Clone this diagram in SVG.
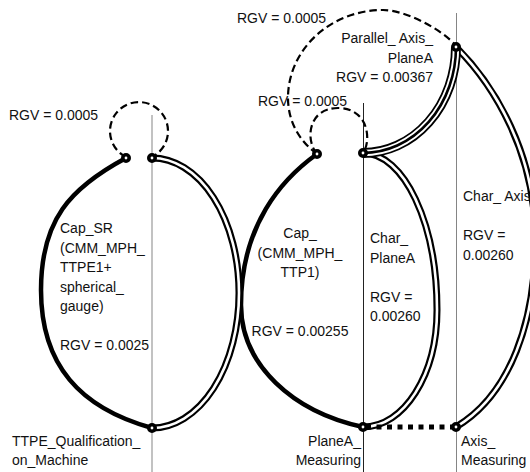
<svg xmlns="http://www.w3.org/2000/svg" xmlns:xlink="http://www.w3.org/1999/xlink" width="530" height="472" viewBox="0 0 530 472">
  <style>
    .lane{stroke:#858585;stroke-width:1;fill:none}
    .lane-dark{stroke:#222;stroke-width:1;fill:none}
    .thick{fill:none;stroke:#000;stroke-width:4.5;stroke-linecap:round}
    .dbl-o{fill:none;stroke:#000;stroke-width:7}
    .dbl-i{fill:none;stroke:#fff;stroke-width:2.6}
    .tri-o{fill:none;stroke:#000;stroke-width:10}
    .tri-w{fill:none;stroke:#fff;stroke-width:6.4}
    .tri-c{fill:none;stroke:#000;stroke-width:2.6}
    .dash{fill:none;stroke:#000;stroke-width:2.2;stroke-dasharray:7.5 4}
    .dot{fill:none;stroke:#000;stroke-width:5;stroke-dasharray:5 5.5}
    .node{fill:#fff;stroke:#000;stroke-width:3.6}
    text{font-family:"Liberation Sans",Arial,sans-serif;font-size:14px;fill:#111}
    .end{text-anchor:end}
    .mid{text-anchor:middle}
  </style>
  <defs>
    <path id="pLeftDbl" d="M152,158 A87,135 0 0 1 152,428"/>
    <path id="pMidDbl" d="M363,153 C404,153 437,223 437,310 C437,375 404,427 363,427"/>
    <path id="pRightDbl" d="M456,47 C496,87 535,155 535,235 C537,320 510,395 456,427"/>
    <path id="pPar" d="M363,153 A93,106 0 0 0 456,47"/>
  </defs>

  <!-- vertical lanes -->
  <g id="lanes">
    <line class="lane" x1="152" y1="115" x2="152" y2="472"/>
    <line class="lane-dark" x1="363.5" y1="103" x2="363.5" y2="472"/>
    <line class="lane" x1="456.5" y1="13" x2="456.5" y2="472"/>
  </g>

  <!-- connectors -->
  <g id="connectors">
    <!-- solid thick arcs -->
    <path class="thick" d="M126,158 C70,188 41,220 41,290 C41,365 80,408 152,428"/>
    <path class="thick" d="M317,154 C282,179 241,225 241,305 C241,365 293,412 363,427"/>
    <!-- double lines -->
    <use href="#pLeftDbl" class="dbl-o"/><use href="#pLeftDbl" class="dbl-i"/>
    <use href="#pMidDbl" class="dbl-o"/><use href="#pMidDbl" class="dbl-i"/>
    <use href="#pRightDbl" class="dbl-o"/><use href="#pRightDbl" class="dbl-i"/>
    <!-- paired double line -->
    <use href="#pPar" class="tri-o"/><use href="#pPar" class="tri-w"/><use href="#pPar" class="tri-c"/>
    <!-- dashed loops -->
    <path class="dash" d="M126,157 A29,29 0 1 1 152,157"/>
    <path class="dash" d="M317,154 C305,140 308,108 338,108 C368,108 372,140 363,153"/>
    <path class="dash" d="M317,154 C298,140 288,120 288,98 C288,49 331,10 383,10 C405,10 442,29 456,46"/>
    <!-- dotted link -->
    <line class="dot" x1="366" y1="427" x2="454" y2="427"/>
  </g>

  <!-- nodes -->
  <g id="n-cap-sr-top"><circle class="node" cx="126" cy="158" r="3.2"/></g>
  <g id="n-cap-sr-lane"><circle class="node" cx="152" cy="158" r="3.2"/></g>
  <g id="n-ttpe"><circle class="node" cx="152" cy="428" r="3.2"/></g>
  <g id="n-cap"><circle class="node" cx="317" cy="154" r="3.2"/></g>
  <g id="n-char-planea"><circle class="node" cx="363" cy="153" r="3.2"/></g>
  <g id="n-planea"><circle class="node" cx="363" cy="427" r="3.2"/></g>
  <g id="n-parallel"><circle class="node" cx="456" cy="47" r="3.2"/></g>
  <g id="n-axis"><circle class="node" cx="456" cy="427" r="3.2"/></g>

  <!-- labels -->
  <g id="labels">
    <text x="9" y="119.5">RGV = 0.0005</text>
    <text x="60" y="233">Cap_SR</text>
    <text x="60" y="252.5">(CMM_MPH_</text>
    <text x="60" y="272">TTPE1+</text>
    <text x="60" y="291.5">spherical_</text>
    <text x="60" y="311">gauge)</text>
    <text x="60" y="350">RGV = 0.0025</text>
    <text x="12" y="445.5">TTPE_Qualification_</text>
    <text x="12" y="465">on_Machine</text>

    <text x="237" y="23">RGV = 0.0005</text>
    <text x="258" y="106">RGV = 0.0005</text>
    <text class="end" x="433" y="43">Parallel_ Axis_</text>
    <text class="end" x="433" y="62.5">PlaneA</text>
    <text class="end" x="433" y="82">RGV = 0.00367</text>

    <text class="mid" x="300" y="238">Cap_</text>
    <text class="mid" x="300" y="257.5">(CMM_MPH_</text>
    <text class="mid" x="300" y="277">TTP1)</text>
    <text class="mid" x="300" y="335.5">RGV = 0.00255</text>

    <text x="370" y="243">Char_</text>
    <text x="370" y="262.5">PlaneA</text>
    <text x="370" y="301.5">RGV =</text>
    <text x="370" y="321">0.00260</text>

    <text x="463" y="201">Char_ Axis</text>
    <text x="463" y="240">RGV =</text>
    <text x="463" y="259.5">0.00260</text>

    <text class="end" x="361" y="445.5">PlaneA_</text>
    <text class="end" x="361" y="465">Measuring</text>
    <text x="461" y="445.5">Axis_</text>
    <text x="461" y="465">Measuring</text>
  </g>
</svg>
